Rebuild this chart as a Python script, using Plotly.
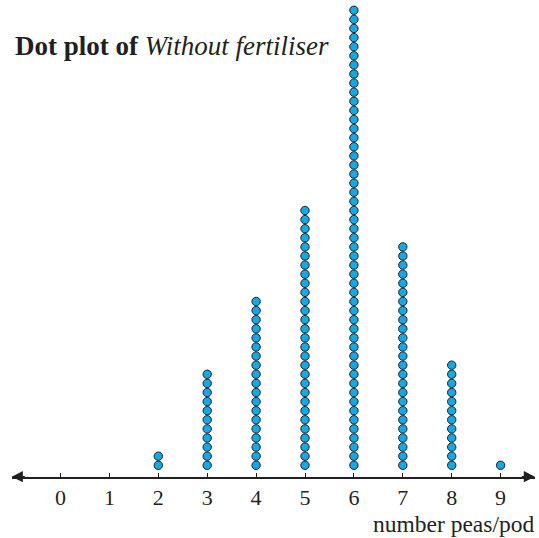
"""Dot plot of peas per pod without fertiliser."""

import plotly.graph_objects as go

# data
peas_per_pod = [0, 1, 2, 3, 4, 5, 6, 7, 8, 9]
pod_counts = [0, 0, 2, 11, 19, 29, 51, 25, 12, 1]
tick_labels = [str(v) for v in peas_per_pod]

DOT_COLOR = "#14A8E4"
INK = "#231F20"
FONT = "Liberation Serif"

# stack one dot per pod
dot_x = []
dot_y = []
for value, count in zip(peas_per_pod, pod_counts):
    for k in range(1, count + 1):
        dot_x.append(value)
        dot_y.append(k)

fig = go.Figure()

fig.add_trace(
    go.Scatter(
        x=dot_x,
        y=dot_y,
        mode="markers",
        marker=dict(size=8.4, color=DOT_COLOR, line=dict(color=INK, width=1)),
        cliponaxis=False,
        hoverinfo="skip",
        showlegend=False,
    )
)

x_lo, x_hi = -0.998, 9.703
y_lo = -0.253

# arrowheads at both ends of the number line
for tip, tail in ((x_lo, x_lo + 0.3), (x_hi, x_hi - 0.3)):
    fig.add_annotation(
        x=tip, y=y_lo, ax=tail, ay=y_lo,
        xref="x", yref="y", axref="x", ayref="y",
        text="", showarrow=True,
        arrowhead=2, arrowsize=1.4, arrowwidth=1.6, arrowcolor=INK,
    )

fig.add_annotation(
    text="<b>Dot plot of </b><i>Without fertiliser</i>",
    xref="paper", yref="paper", x=13 / 539, y=1 - 46 / 538,
    xanchor="left", yanchor="middle", showarrow=False,
    font=dict(family=FONT, size=27, color=INK),
)

fig.add_annotation(
    text="number peas/pod",
    xref="paper", yref="paper", x=536 / 539, y=1 - 524 / 538,
    xanchor="right", yanchor="middle", showarrow=False,
    font=dict(family=FONT, size=23.5, color=INK),
)

fig.update_xaxes(
    domain=[11.7 / 539, 535 / 539],
    range=[x_lo, x_hi],
    tickmode="array",
    tickvals=peas_per_pod,
    ticktext=tick_labels,
    ticks="inside",
    ticklen=4,
    tickwidth=1,
    tickcolor=INK,
    showline=True,
    linecolor=INK,
    linewidth=1.6,
    showgrid=False,
    zeroline=False,
    ticklabelstandoff=0,
    tickfont=dict(family=FONT, size=22, color=INK),
)

fig.update_yaxes(
    domain=[61.3 / 538, 1],
    range=[y_lo, 52.13],
    visible=False,
)

fig.update_layout(
    width=539,
    height=538,
    margin=dict(l=0, r=0, t=0, b=0),
    plot_bgcolor="white",
    paper_bgcolor="white",
)

# drop the page's default body margin so the figure sits at the window corner
fig.write_html(
    "out.html",
    config={"displayModeBar": False},
    post_script="document.body.style.margin = '0'; document.body.style.overflow = 'hidden';",
)
